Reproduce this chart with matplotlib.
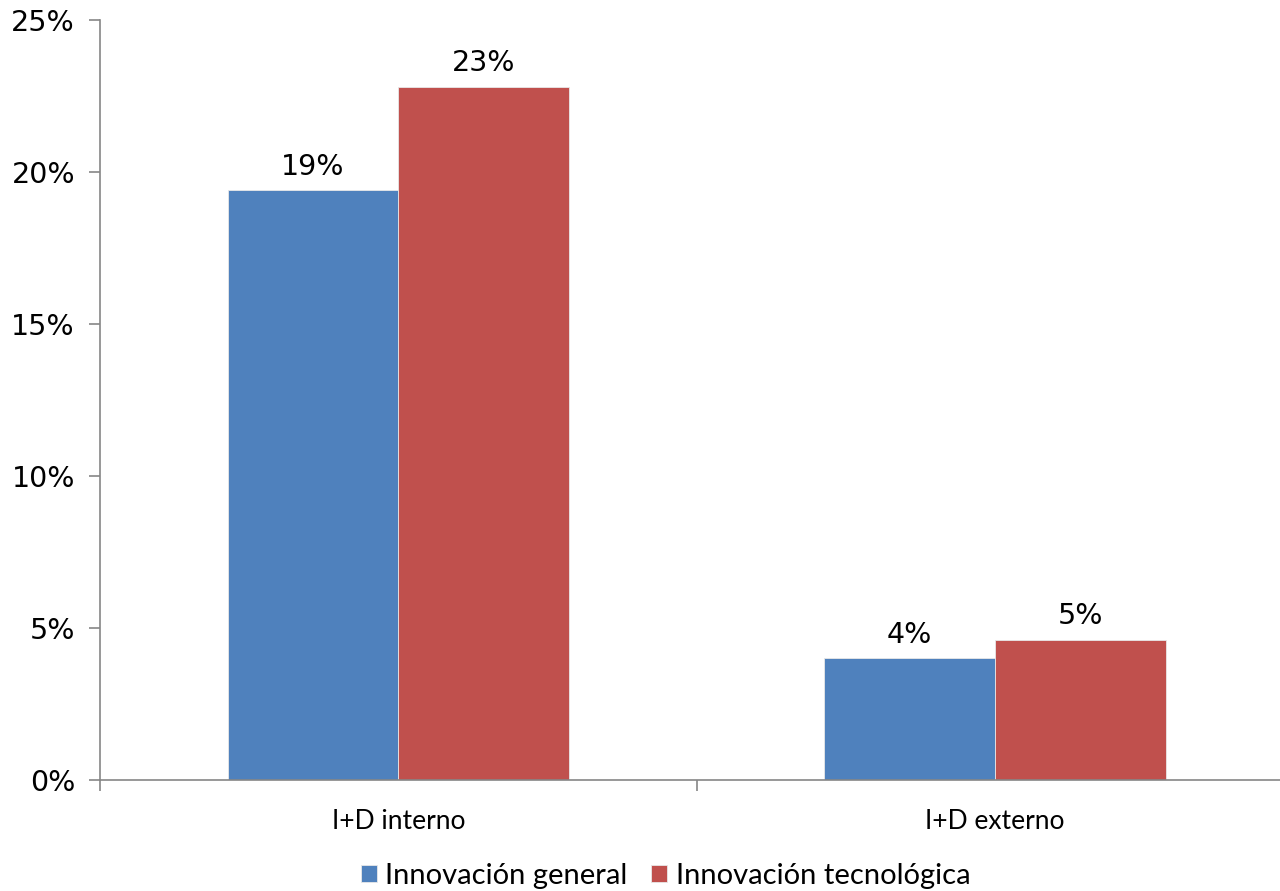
import matplotlib
matplotlib.use("Agg")
import matplotlib.pyplot as plt
import numpy as np

# data
categories = ["I+D interno", "I+D externo"]
general = [19.4, 4.0]
tecnologica = [22.8, 4.6]
series_names = ["Innovación general", "Innovación tecnológica"]
colors = ["#4F81BD", "#C0504D"]

fig = plt.figure(figsize=(12.8, 8.91), dpi=100)
# axis runs a little past the right border, like the original
ax = fig.add_axes([100 / 1280, 111 / 891, 1193.5 / 1280, 760 / 891])

x = np.arange(len(categories))
w = 0.286
b1 = ax.bar(x - w / 2, general, w, color=colors[0], edgecolor="#E8E8E8", linewidth=0.6, label=series_names[0])
b2 = ax.bar(x + w / 2, tecnologica, w, color=colors[1], edgecolor="#E8E8E8", linewidth=0.6, label=series_names[1])

for bars in (b1, b2):
    for rect in bars:
        h = rect.get_height()
        ax.annotate(f"{h:.0f}%", (rect.get_x() + rect.get_width() / 2, h),
                    xytext=(0, 7), textcoords="offset points",
                    ha="center", va="bottom", fontsize=20.5, family="DejaVu Sans")

ax.set_ylim(0, 25)
ax.set_xlim(-0.5, 1.5)
ax.set_yticks(range(0, 26, 5))
ax.set_yticklabels([f"{v}%" for v in range(0, 26, 5)], fontsize=20.5, family="DejaVu Sans")

# ticks between categories, labels in the middle
ax.set_xticks([-0.5, 0.5, 1.5])
ax.set_xticklabels([])
ax.set_xticks(x, minor=True)
ax.set_xticklabels(categories, minor=True, fontsize=19, family="Lato")
ax.tick_params(axis="x", which="minor", length=0, pad=21)
ax.tick_params(axis="x", which="major", length=8, color="#868686", width=1.2, direction="out")
ax.tick_params(axis="y", length=8, color="#868686", width=1.2, pad=10)

for s in ["top", "right"]:
    ax.spines[s].set_visible(False)
for s in ["left", "bottom"]:
    ax.spines[s].set_color("#868686")
    ax.spines[s].set_linewidth(1.2)

fig.legend(loc="center", bbox_to_anchor=(0.52, 0.017), ncol=2, frameon=False,
           handlelength=0.55, handleheight=0.55, handletextpad=0.3, columnspacing=0.8,
           borderpad=0, prop={"family": "Lato", "size": 21})

fig.savefig("out.png", dpi=100)
